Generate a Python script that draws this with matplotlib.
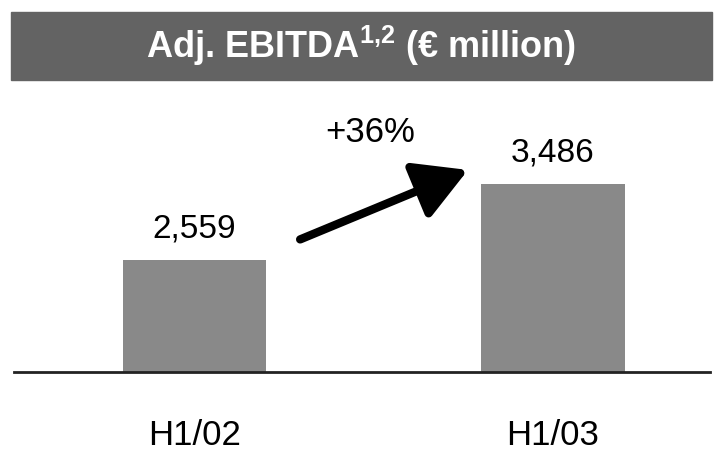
import matplotlib
matplotlib.use("Agg")
import matplotlib.pyplot as plt
from matplotlib.patches import Rectangle

categories = ["H1/02", "H1/03"]
values = [2559, 3486]
value_labels = ["2,559", "3,486"]
growth_label = "+36%"
title = r"Adj. EBITDA$^{\mathregular{1{,}2}}$ (€ million)"

FONT = ['Liberation Sans', 'DejaVu Sans']
plt.rcParams['font.family'] = FONT

W, H = 717, 451
fig = plt.figure(figsize=(W / 100, H / 100), dpi=100)

# title bar
fig.patches.append(Rectangle((11 / W, 1 - 80 / H), (712 - 11) / W, (80 - 12) / H,
                             transform=fig.transFigure, color="#636363", zorder=0))
fig.text(361 / W, 1 - 46 / H, title, color="white", fontsize=26, fontweight="bold",
         ha="center", va="center")

ax = fig.add_axes([14 / W, (H - 372) / H, (710 - 14) / W, (372 - 100) / H])
x = list(range(len(categories)))
ax.bar(x, values, width=0.40, color="#898989", zorder=2)
ax.set_xlim(-0.503, 1.438)
ax.set_ylim(1193, 4510)
for s in ["top", "right", "left"]:
    ax.spines[s].set_visible(False)
ax.spines["bottom"].set_linewidth(2)
ax.spines["bottom"].set_color("#222222")
ax.set_yticks([])
ax.set_xticks(x)
ax.set_xticklabels(categories, fontsize=25)
ax.tick_params(axis="x", length=0, pad=34)

for xi, v, lab in zip(x, values, value_labels):
    ax.annotate(lab, (xi, v), xytext=(0, 11), textcoords="offset points",
                ha="center", va="bottom", fontsize=24)

# growth arrow
ax.annotate("", xy=(0.763, 3657), xytext=(0.295, 2810),
            arrowprops=dict(arrowstyle="-|>,head_length=1.6,head_width=0.9",
                            lw=6, color="black", shrinkA=0, shrinkB=0,
                            mutation_scale=20))
ax.text(0.49, 4108, growth_label, ha="center", va="center", fontsize=25)

fig.savefig("out.png", dpi=100)
